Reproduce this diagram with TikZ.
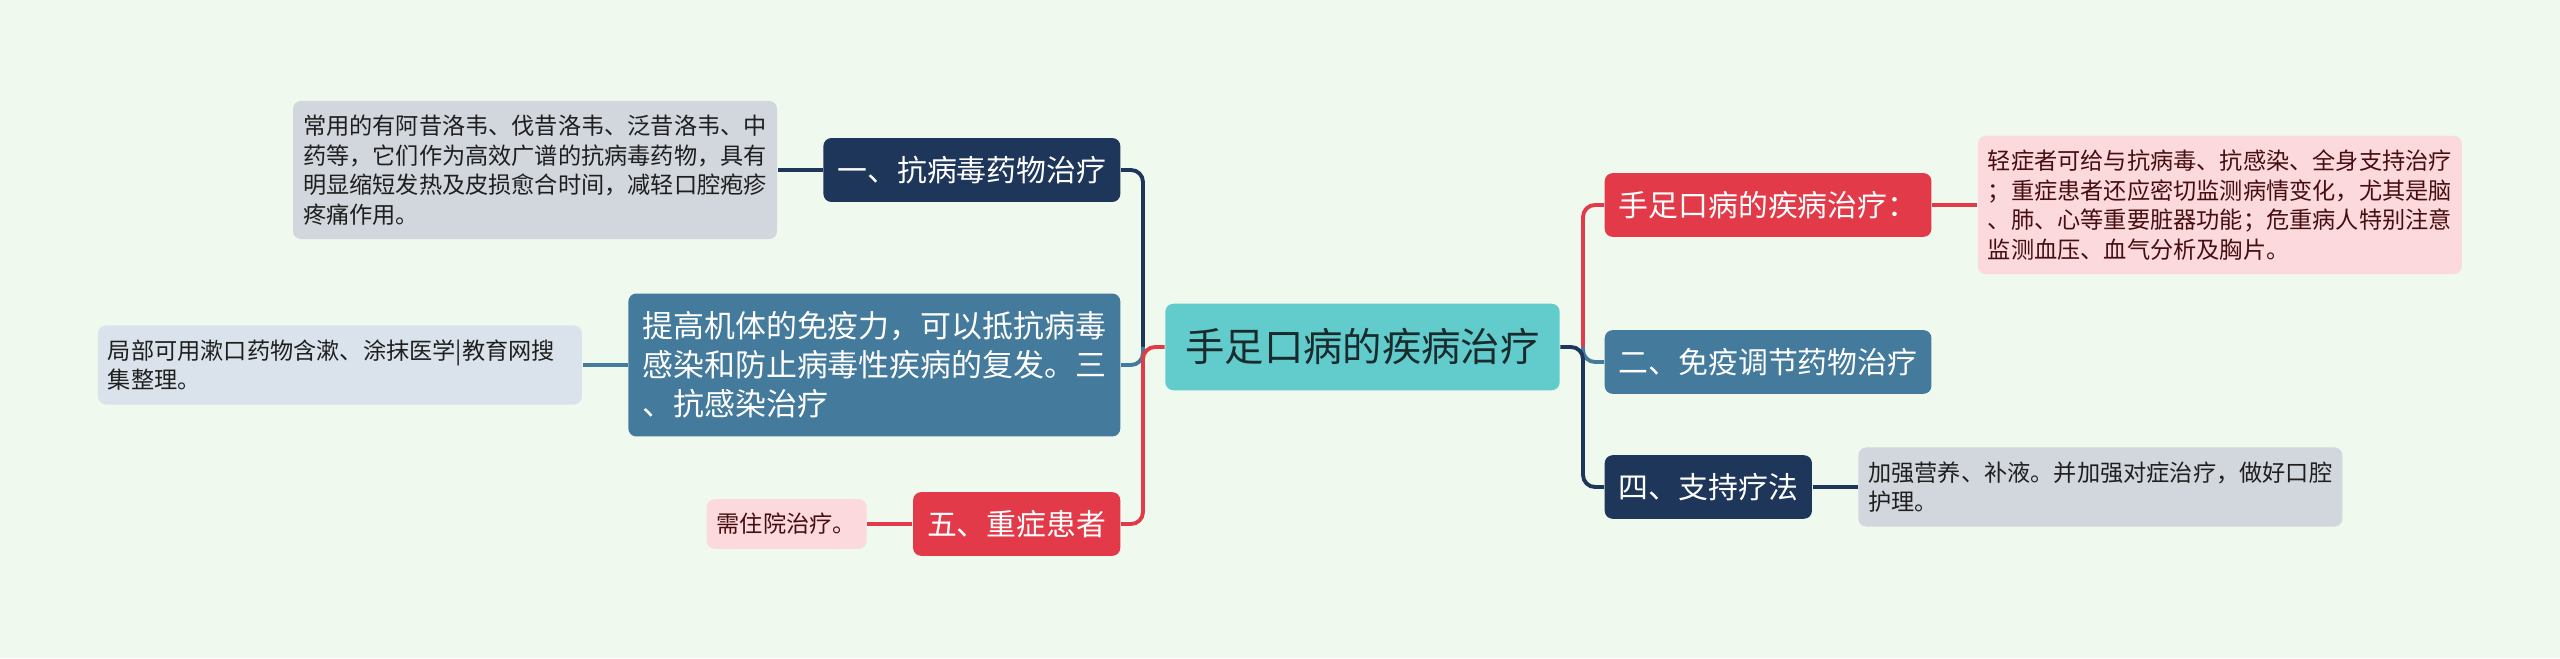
\documentclass[tikz,border=0pt]{standalone}
\usepackage{fontspec}
\setmainfont{Noto Sans CJK SC}
\usetikzlibrary{positioning}

\definecolor{bgc}{HTML}{F0F9EE}
\definecolor{rootc}{HTML}{62CBCC}
\definecolor{navyc}{HTML}{1E365A}
\definecolor{steelc}{HTML}{447A9C}
\definecolor{redc}{HTML}{E23A48}
\definecolor{grayn}{HTML}{D2D6DD}
\definecolor{bluen}{HTML}{DAE3EB}
\definecolor{pinkn}{HTML}{FBD9DC}

\begin{document}
\begin{tikzpicture}[node distance=0.45cm,
       lnk/.style={line width=1.1pt, rounded corners=0.12cm}]
       \tikzstyle{root}=[fill=rootc, rounded corners=0.08cm, text={rgb,255:red,26;green,43;blue,45},
              font=\fontsize{11.2}{14}\selectfont, inner xsep=0.2cm, inner ysep=0.25cm]
       \tikzstyle{topic}=[rounded corners=0.08cm, text=white, align=left,
              font=\fontsize{8.5}{11}\selectfont, inner xsep=0.14cm, inner ysep=0.18cm]
       \tikzstyle{note}=[rounded corners=0.08cm, align=left, text width=4.64cm,
              font=\fontsize{6.6}{8.4}\selectfont, inner xsep=0.1cm, inner ysep=0.14cm]

       \useasboundingbox (0,0) rectangle (25.6,6.58);
       \fill[bgc] (0,0) rectangle (25.6,6.58);

       \node[root] (root) at (13.625,3.11) {手足口病的疾病治疗};

       % left side
       \node[topic, fill=navyc, anchor=east] (t_1) at (11.21,4.88) {一、抗病毒药物治疗};
       \node[topic, fill=steelc, anchor=east, font=\fontsize{8.8}{11.1}\selectfont] (t_3) at (11.21,2.93)
              {提高机体的免疫力，可以抵抗病毒\\感染和防止病毒性疾病的复发。三\\、抗感染治疗};
       \node[topic, fill=redc, anchor=east] (t_5) at (11.21,1.34) {五、重症患者};

       \node[note, fill=grayn, text=black!88] (n_1) [left=of t_1]
              {常用的有阿昔洛韦、伐昔洛韦、泛昔洛韦、中\\药等，它们作为高效广谱的抗病毒药物，具有\\明显缩短发热及皮损愈合时间，减轻口腔疱疹\\疼痛作用。};
       \node[note, fill=bluen, text=black!88] (n_3) [left=of t_3]
              {局部可用漱口药物含漱、涂抹医学|教育网搜\\集整理。};
       \node[note, fill=pinkn, text={rgb,255:red,70;green,14;blue,18}, text width=1.4cm] (n_5) [left=of t_5]
              {需住院治疗。};

       % right side
       \node[topic, fill=redc, anchor=west] (t_0) at (16.04,4.53) {手足口病的疾病治疗：};
       \node[topic, fill=steelc, anchor=west] (t_2) at (16.04,2.96) {二、免疫调节药物治疗};
       \node[topic, fill=navyc, anchor=west] (t_4) at (16.04,1.71) {四、支持疗法};

       \node[note, fill=pinkn, text={rgb,255:red,70;green,14;blue,18}] (n_0) [right=of t_0]
              {轻症者可给与抗病毒、抗感染、全身支持治疗\\；重症患者还应密切监测病情变化，尤其是脑\\、肺、心等重要脏器功能；危重病人特别注意\\监测血压、血气分析及胸片。};
       \node[note, fill=grayn, text=black!88] (n_4) [right=of t_4]
              {加强营养、补液。并加强对症治疗，做好口腔\\护理。};

       \coordinate (jl) at (11.43,3.11);
       \coordinate (jr) at (15.83,3.11);

       \draw[lnk, navyc] (jl) |- (t_1.east);
       \draw[lnk, steelc] (jl) |- (t_3.east);
       \draw[lnk, redc] (root.west) -- (jl) |- (t_5.east);

       \draw[lnk, redc] (jr) |- (t_0.west);
       \draw[lnk, steelc] (jr) |- (t_2.west);
       \draw[lnk, navyc] (root.east) -- (jr) |- (t_4.west);

       \draw[lnk, navyc] (t_1) -- (n_1);
       \draw[lnk, steelc] (t_3) -- (n_3);
       \draw[lnk, redc] (t_5) -- (n_5);
       \draw[lnk, redc] (t_0) -- (n_0);
       \draw[lnk, navyc] (t_4) -- (n_4);
\end{tikzpicture}
\end{document}
